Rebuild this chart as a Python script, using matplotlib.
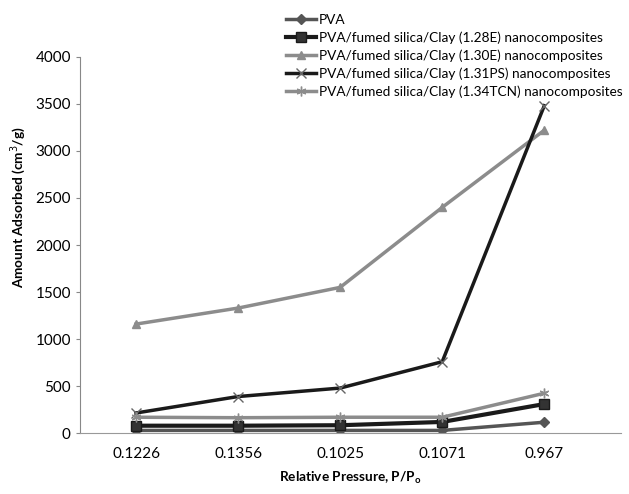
import matplotlib.pyplot as plt
import numpy as np

plt.rcParams['font.family'] = ['Lato', 'DejaVu Sans']

pressure = ["0.1226", "0.1356", "0.1025", "0.1071", "0.967"]
pva = [30, 30, 30, 30, 117]
e128 = [80, 80, 85, 120, 310]
e130 = [1160, 1330, 1550, 2400, 3220]
ps131 = [215, 390, 480, 760, 3480]
tcn134 = [170, 165, 170, 170, 425]

x = np.arange(len(pressure))

fig = plt.figure(figsize=(6.29, 4.94), dpi=100)
ax = fig.add_axes([0.127, 0.123, 0.86, 0.762])

ax.plot(x, pva, color="#555555", lw=2.5, marker="D", ms=5, label="PVA")
ax.plot(x, e128, color="#1a1a1a", lw=3, marker="s", ms=7, mfc="#333333",
        label="PVA/fumed silica/Clay (1.28E) nanocomposites")
ax.plot(x, e130, color="#8c8c8c", lw=2.5, marker="^", ms=6,
        label="PVA/fumed silica/Clay (1.30E) nanocomposites")
ax.plot(x, ps131, color="#1a1a1a", lw=2.5, marker="x", ms=7, mec="#666666",
        label="PVA/fumed silica/Clay (1.31PS) nanocomposites")
ax.plot(x, tcn134, color="#8c8c8c", lw=2.5, marker=(6, 2, 0), ms=7,
        label="PVA/fumed silica/Clay (1.34TCN) nanocomposites")

ax.set_xlim(-0.55, 4.75)
ax.set_ylim(0, 4000)
ax.set_yticks(np.arange(0, 4001, 500))
ax.set_xticks(x)
ax.set_xticklabels(pressure)
ax.tick_params(axis="x", length=0, pad=10, labelsize=11)
ax.tick_params(axis="y", length=3, labelsize=11, color="#888888")
for s in ["top", "right"]:
    ax.spines[s].set_visible(False)
ax.spines["left"].set_color("#888888")
ax.spines["bottom"].set_color("#999999")
ax.spines["bottom"].set_linestyle((0, (2, 1)))

ax.set_ylabel("Amount Adsorbed (cm$^3$/g)", fontweight="bold", fontsize=9.8)
ax.yaxis.set_label_coords(-0.095, 0.6)
ax.set_xlabel("Relative Pressure, P/P$_\\mathregular{o}$", fontweight="bold",
              fontsize=9.8, labelpad=6)

fig.legend(loc="upper left", bbox_to_anchor=(0.436, 0.996), frameon=False,
           fontsize=9.8, handlelength=2.2, handletextpad=0.2, labelspacing=0.4,
           borderaxespad=0.5)

fig.savefig("out.png", dpi=100)
